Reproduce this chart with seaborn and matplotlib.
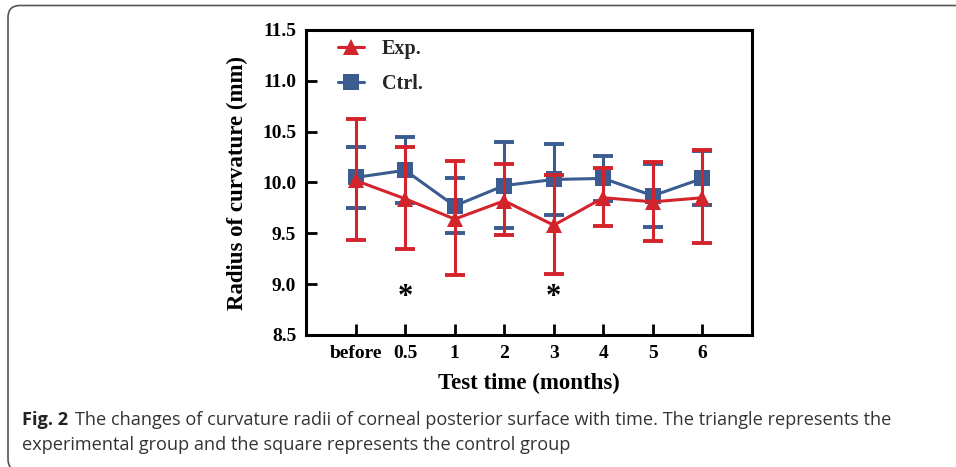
import numpy as np
import pandas as pd
import matplotlib
matplotlib.use("Agg")
import matplotlib.pyplot as plt
import seaborn as sns
from matplotlib.path import Path
from matplotlib.patches import PathPatch

# ---- data ----
categories = ["before", "0.5", "1", "2", "3", "4", "5", "6"]
exp_mean = [10.02, 9.84, 9.64, 9.82, 9.58, 9.85, 9.81, 9.85]
exp_upper = [10.62, 10.35, 10.21, 10.18, 10.07, 10.14, 10.20, 10.32]
exp_lower = [9.43, 9.35, 9.09, 9.48, 9.10, 9.57, 9.42, 9.40]
ctrl_mean = [10.05, 10.12, 9.77, 9.97, 10.03, 10.04, 9.87, 10.04]
ctrl_upper = [10.35, 10.45, 10.04, 10.40, 10.38, 10.26, 10.18, 10.31]
ctrl_lower = [9.75, 9.80, 9.50, 9.55, 9.68, 9.82, 9.56, 9.78]
yticks = [8.5, 9.0, 9.5, 10.0, 10.5, 11.0, 11.5]
signif_idx = [1, 4]
signif_y = 8.87

RED = "#D3242C"
BLUE = "#3A5C90"

sns.set_theme(style="white")
plt.rcParams["font.family"] = ["Liberation Serif", "DejaVu Serif"]

fig = plt.figure(figsize=(9.56, 4.67), dpi=100)
ax = fig.add_axes([306 / 956, 1 - 335 / 467, (752 - 306) / 956, (335 - 30) / 467])

x = np.arange(len(categories))
df = pd.DataFrame({
    "pos": np.concatenate([x, x]),
    "val": exp_mean + ctrl_mean,
    "group": ["Exp."] * len(x) + ["Ctrl."] * len(x),
})

# control first (behind)
ax.errorbar(x, ctrl_mean,
            yerr=[np.array(ctrl_mean) - np.array(ctrl_lower), np.array(ctrl_upper) - np.array(ctrl_mean)],
            fmt="none", ecolor=BLUE, elinewidth=2.2, capsize=7, capthick=2.8, zorder=2)
sns.lineplot(data=df[df.group == "Ctrl."], x="pos", y="val", ax=ax, color=BLUE,
             marker="s", markersize=11, markeredgewidth=0, linewidth=2.2, zorder=3,
             label="Ctrl.", legend=False)
ax.errorbar(x, exp_mean,
            yerr=[np.array(exp_mean) - np.array(exp_lower), np.array(exp_upper) - np.array(exp_mean)],
            fmt="none", ecolor=RED, elinewidth=2.2, capsize=7, capthick=2.8, zorder=4)
sns.lineplot(data=df[df.group == "Exp."], x="pos", y="val", ax=ax, color=RED,
             marker="^", markersize=11.5, markeredgewidth=0, linewidth=2.2, zorder=5,
             label="Exp.", legend=False)

ax.set_xlim(-1, 8)
ax.set_ylim(8.5, 11.5)
ax.set_xticks(x)
ax.set_xticklabels(categories)
ax.set_yticks(yticks)
ax.set_yticklabels([f"{v:.1f}" for v in yticks])

for sp in ax.spines.values():
    sp.set_visible(True)
    sp.set_color("black")
    sp.set_linewidth(2.2)

ax.tick_params(axis="both", which="both", direction="in", length=8, width=2,
               color="black", labelsize=14, pad=7, left=True, bottom=True,
               top=False, right=False)
for lbl in ax.get_xticklabels() + ax.get_yticklabels():
    lbl.set_fontweight("bold")
    lbl.set_color("black")

ax.set_xlabel("Test time (months)", fontsize=16.5, fontweight="bold", color="black", labelpad=8)
ax.set_ylabel("Radius of curvature (mm)", fontsize=16.5, fontweight="bold", color="black", labelpad=10)

for i in signif_idx:
    ax.text(x[i], signif_y, "*", ha="center", va="center", fontsize=22,
            fontweight="bold", color="black")

handles, labels = ax.get_legend_handles_labels()
order = [labels.index("Exp."), labels.index("Ctrl.")]
leg = ax.legend([handles[i] for i in order], [labels[i] for i in order],
                loc="upper left", bbox_to_anchor=(0.03, 1.03), frameon=False,
                prop={"weight": "bold", "size": 14.5}, handlelength=1.3,
                labelspacing=0.75, handletextpad=0.9)

# caption
fig.text(22 / 956, 1 - 420 / 467, "Fig. 2", fontsize=13.1, va="center", ha="left",
         family="Open Sans", fontweight="bold", color="#222222")
fig.text(75 / 956, 1 - 420 / 467,
         "The changes of curvature radii of corneal posterior surface with time. The triangle represents the",
         fontsize=13.1, va="center", ha="left", family="Open Sans", color="#333333")
fig.text(22 / 956, 1 - 445 / 467,
         "experimental group and the square represents the control group",
         fontsize=13.1, va="center", ha="left", family="Open Sans", color="#333333")

# frame: top edge + left edge with rounded corners (pixel coordinates via inches)
dpi = 100.0
L, T, B, r = 8 / dpi, (467 - 5.5) / dpi, (467 + 4) / dpi * 0 - 4 / dpi, 12 / dpi
verts = [(10.0, T), (L + r, T), (L, T), (L, T - r), (L, B + r), (L, B), (L + r, B), (10.0, B)]
codes = [Path.MOVETO, Path.LINETO, Path.CURVE3, Path.CURVE3, Path.LINETO,
         Path.CURVE3, Path.CURVE3, Path.LINETO]
frame = PathPatch(Path(verts, codes), transform=fig.dpi_scale_trans, fill=False,
                  edgecolor="#555555", linewidth=1.2, clip_on=False)
fig.add_artist(frame)

fig.savefig("out.png", dpi=100)
